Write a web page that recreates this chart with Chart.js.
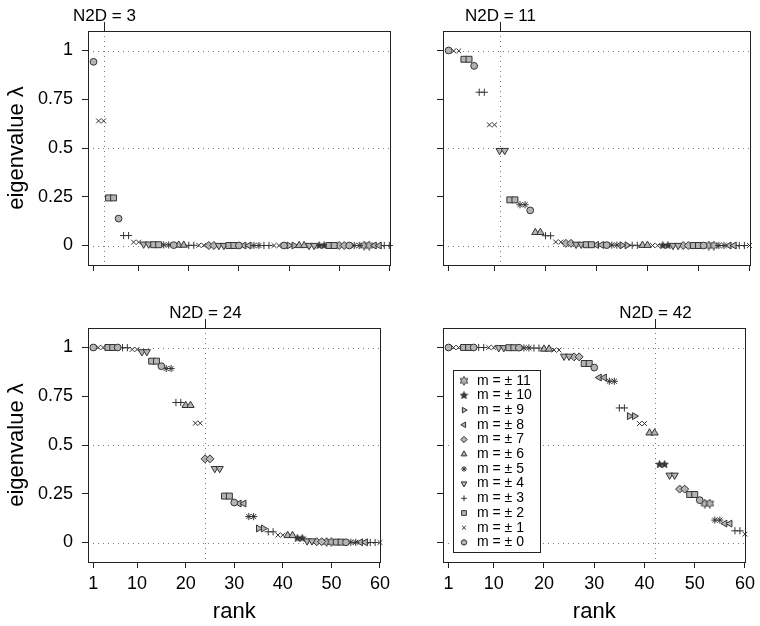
<!DOCTYPE html>
<html>
<head>
<meta charset="utf-8">
<script src="https://cdn.jsdelivr.net/npm/chart.js@4.4.0/dist/chart.umd.min.js"></script>
<style>
    body { margin: 0; background: #fff; width: 760px; height: 626px; position: relative; overflow: hidden; }
    canvas { position: absolute; }
</style>
</head>
<body>
<canvas id="p1" width="395" height="290" style="left:0px;top:0px"></canvas>
<canvas id="p2" width="365" height="290" style="left:395px;top:0px"></canvas>
<canvas id="p3" width="395" height="336" style="left:0px;top:290px"></canvas>
<canvas id="p4" width="365" height="336" style="left:395px;top:290px"></canvas>
<script>
// Shannon number of each panel
var n2d = [3, 11, 24, 42];
var xTicks = [1, 10, 20, 30, 40, 50, 60];
var yTicks = [0, 0.25, 0.5, 0.75, 1];
var mLevels = [11, 10, 9, 8, 7, 6, 5, 4, 3, 2, 1, 0];

// order |m| of the eigenvalue at each rank (1..60)
var mRank1 = [0, 1, 1, 2, 2, 0, 3, 3, 1, 1,
    4, 4, 2, 2, 5, 5, 0, 6, 6, 3,
    3, 1, 1, 7, 7, 4, 4, 2, 2, 0,
    8, 8, 5, 5, 3, 3, 1, 1, 0, 9,
    9, 6, 6, 4, 4, 10, 10, 2, 2, 7,
    7, 0, 5, 5, 11, 11, 8, 8, 3, 3];
var vals1 = [0.942, 0.639, 0.639, 0.244, 0.244, 0.138, 0.051, 0.051, 0.017, 0.017,
    0.007, 0.007, 0.004, 0.004, 0.003, 0.003, 0.002, 0.002, 0.002, 0.001,
    0.001, 0.001, 0.001, 0, 0, 0, 0, 0, 0, 0,
    0, 0, 0, 0, 0, 0, 0, 0, 0, 0,
    0, 0, 0, 0, 0, 0, 0, 0, 0, 0,
    0, 0, 0, 0, 0, 0, 0, 0, 0, 0];

var mRank2 = [0, 1, 1, 2, 2, 0, 3, 3, 1, 1,
    4, 4, 2, 2, 5, 5, 0, 6, 6, 3,
    3, 1, 1, 7, 7, 4, 4, 2, 2, 8,
    8, 0, 5, 5, 9, 9, 3, 3, 6, 6,
    1, 1, 10, 10, 4, 4, 7, 7, 2, 2,
    0, 11, 11, 5, 5, 8, 8, 3, 3, 1];
var vals2 = [1.0, 0.998, 0.998, 0.955, 0.955, 0.921, 0.786, 0.786, 0.619, 0.619,
    0.487, 0.487, 0.234, 0.234, 0.209, 0.209, 0.18, 0.067, 0.067, 0.05,
    0.05, 0.018, 0.018, 0.011, 0.011, 0.006, 0.006, 0.004, 0.004, 0.003,
    0.003, 0.002, 0.002, 0.002, 0.001, 0.001, 0.001, 0.001, 0.001, 0.001,
    0, 0, 0, 0, 0, 0, 0, 0, 0, 0,
    0, 0, 0, 0, 0, 0, 0, 0, 0, 0];

var mRank3 = [0, 1, 1, 2, 2, 0, 3, 3, 1, 1,
    4, 4, 2, 2, 0, 5, 5, 3, 3, 6,
    6, 1, 1, 7, 7, 4, 4, 2, 2, 0,
    8, 8, 5, 5, 9, 9, 3, 3, 1, 1,
    6, 6, 10, 10, 4, 4, 7, 7, 11, 11,
    2, 2, 0, 5, 5, 8, 8, 3, 3, 1];
var vals3 = [1.0, 1.0, 1.0, 1.0, 1.0, 1.0, 0.999, 0.999, 0.99, 0.99,
    0.978, 0.978, 0.93, 0.93, 0.904, 0.892, 0.892, 0.718, 0.718, 0.703,
    0.703, 0.612, 0.612, 0.429, 0.429, 0.379, 0.379, 0.238, 0.238, 0.205,
    0.2, 0.2, 0.133, 0.133, 0.072, 0.072, 0.055, 0.055, 0.038, 0.038,
    0.036, 0.036, 0.022, 0.022, 0.008, 0.008, 0.004, 0.004, 0.003, 0.003,
    0.002, 0.002, 0.001, 0.001, 0.001, 0.001, 0.001, 0, 0, 0];

var mRank4 = [0, 1, 1, 2, 2, 0, 3, 3, 1, 1,
    4, 4, 2, 2, 0, 5, 5, 3, 3, 6,
    6, 1, 1, 4, 4, 7, 7, 2, 2, 0,
    8, 8, 5, 5, 3, 3, 9, 9, 1, 1,
    6, 6, 10, 10, 4, 4, 7, 7, 2, 2,
    0, 11, 11, 5, 5, 8, 8, 3, 3, 1];
var vals4 = [1.0, 1.0, 1.0, 1.0, 1.0, 1.0, 1.0, 1.0, 1.0, 1.0,
    0.999, 0.999, 0.999, 0.999, 0.999, 0.998, 0.998, 0.997, 0.997, 0.992,
    0.992, 0.987, 0.987, 0.955, 0.955, 0.952, 0.952, 0.918, 0.918, 0.897,
    0.846, 0.846, 0.827, 0.827, 0.69, 0.69, 0.648, 0.648, 0.61, 0.61,
    0.562, 0.562, 0.40, 0.40, 0.345, 0.345, 0.274, 0.274, 0.246, 0.246,
    0.217, 0.2, 0.2, 0.115, 0.115, 0.097, 0.097, 0.06, 0.06, 0.043];

var panels = [
    { id: 'p1', m: mRank1, v: vals1 },
    { id: 'p2', m: mRank2, v: vals2 },
    { id: 'p3', m: mRank3, v: vals3 },
    { id: 'p4', m: mRank4, v: vals4 }
];

var fam = "'Liberation Sans', Arial, Helvetica, sans-serif";
var grayFill = '#b4b4b4';
var dark = '#333333';

window.onload = function () {

    this.graficos();

}

function makeStar(points, size, inner, fill, stroke) {
    var c = document.createElement('canvas');
    c.width = size;
    c.height = size;
    var g = c.getContext('2d');
    var cx = size / 2, cy = size / 2, R = size / 2 - 0.6, r = R * inner;
    g.beginPath();
    for (var i = 0; i < points * 2; i++) {
        var a = -Math.PI / 2 + i * Math.PI / points;
        var rr = i % 2 === 0 ? R : r;
        g.lineTo(cx + rr * Math.cos(a), cy + rr * Math.sin(a));
    }
    g.closePath();
    g.fillStyle = fill;
    g.fill();
    g.strokeStyle = stroke;
    g.lineWidth = 0.9;
    g.stroke();
    return c;
}

var star5 = makeStar(5, 9, 0.42, dark, dark);
var star6 = makeStar(6, 10, 0.58, grayFill, dark);

// marker for each |m|
function marker(m) {
    switch (m) {
        case 0: return { pointStyle: 'circle', rotation: 0, radius: 3.4 };
        case 1: return { pointStyle: 'crossRot', rotation: 0, radius: 3.4 };
        case 2: return { pointStyle: 'rect', rotation: 0, radius: 4.2 };
        case 3: return { pointStyle: 'cross', rotation: 0, radius: 3.6 };
        case 4: return { pointStyle: 'triangle', rotation: 180, radius: 4.2 };
        case 5: return { pointStyle: 'star', rotation: 0, radius: 3.6 };
        case 6: return { pointStyle: 'triangle', rotation: 0, radius: 4.2 };
        case 7: return { pointStyle: 'rectRot', rotation: 0, radius: 4 };
        case 8: return { pointStyle: 'triangle', rotation: -90, radius: 4 };
        case 9: return { pointStyle: 'triangle', rotation: 90, radius: 4 };
        case 10: return { pointStyle: star5, rotation: 0, radius: 4 };
        default: return { pointStyle: star6, rotation: 0, radius: 4 };
    }
}

var decoPlugin = {
    id: 'deco',
    beforeDatasetsDraw: function (chart, args, opts) {
        var ctx = chart.ctx, a = chart.chartArea;
        var xs = chart.scales.x, ys = chart.scales.y;
        ctx.save();
        ctx.strokeStyle = '#777';
        ctx.lineWidth = 1;
        ctx.setLineDash([1, 4]);
        [0, 0.5, 1].forEach(function (v) {
            var py = Math.round(ys.getPixelForValue(v)) + 0.5;
            ctx.beginPath();
            ctx.moveTo(a.left, py);
            ctx.lineTo(a.right, py);
            ctx.stroke();
        });
        var px = Math.round(xs.getPixelForValue(opts.n2d)) + 0.5;
        ctx.beginPath();
        ctx.moveTo(px, a.top);
        ctx.lineTo(px, a.bottom);
        ctx.stroke();
        ctx.restore();
    },
    afterDraw: function (chart, args, opts) {
        var ctx = chart.ctx, a = chart.chartArea;
        var xs = chart.scales.x;
        ctx.save();
        ctx.strokeStyle = '#222';
        ctx.lineWidth = 1;
        ctx.strokeRect(Math.round(a.left) + 0.5, Math.round(a.top) + 0.5, Math.round(a.right - a.left), Math.round(a.bottom - a.top));
        var px = Math.round(xs.getPixelForValue(opts.n2d)) + 0.5;
        ctx.beginPath();
        ctx.moveTo(px, a.top - 9);
        ctx.lineTo(px, a.top);
        ctx.stroke();
        ctx.fillStyle = '#000';
        ctx.font = '17px ' + fam;
        ctx.textAlign = 'center';
        ctx.textBaseline = 'middle';
        ctx.fillText('N2D = ' + opts.n2d, px, a.top - 15);

        if (opts.legend) {
            var lx = a.left + 10, ly = a.top + 42, lw = 87, lh = 182;
            ctx.fillStyle = '#fff';
            ctx.fillRect(lx, ly, lw, lh);
            ctx.strokeRect(lx + 0.5, ly + 0.5, lw, lh);
            ctx.font = '14px ' + fam;
            ctx.textAlign = 'left';
            mLevels.forEach(function (m, i) {
                var cy = ly + 10.7 + i * 14.7;
                var mk = marker(m);
                ctx.fillStyle = grayFill;
                ctx.strokeStyle = dark;
                ctx.lineWidth = 1;
                if (Chart.helpers && Chart.helpers.drawPoint) {
                    Chart.helpers.drawPoint(ctx, { pointStyle: mk.pointStyle, rotation: mk.rotation, radius: mk.radius * 0.8, borderWidth: 1 }, lx + 11, cy);
                }
                ctx.fillStyle = '#000';
                ctx.fillText('m = \u00b1 ' + m, lx + 24, cy);
            });
        }
        ctx.restore();
    }
};

function graficos() {

    Chart.defaults.font.family = fam;

    for (var k = 0; k < panels.length; k++) {
        var p = panels[k];
        var isLeft = k % 2 === 0;
        var isBottom = k >= 2;

        var datasets = [];
        mLevels.slice().reverse().forEach(function (m) {
            var pts = [];
            for (var i = 0; i < p.m.length; i++) {
                if (p.m[i] === m) pts.push({ x: i + 1, y: p.v[i] });
            }
            var mk = marker(m);
            datasets.push({
                label: 'm = \u00b1 ' + m,
                data: pts,
                pointStyle: mk.pointStyle,
                rotation: mk.rotation,
                pointRadius: mk.radius,
                pointBackgroundColor: grayFill,
                pointBorderColor: dark,
                pointBorderWidth: 1,
                clip: false
            });
        });

        var ctx = document.getElementById(p.id);

        new Chart(ctx, {
            type: 'scatter',
            data: { datasets: datasets },
            options: {
                responsive: false,
                animation: false,
                events: [],
                layout: { padding: { top: isBottom ? 38 : 31, right: isLeft ? 2 : 10, left: 0, bottom: 0 } },
                plugins: {
                    legend: { display: false },
                    tooltip: { enabled: false },
                    deco: { n2d: n2d[k], legend: k === 3 }
                },
                scales: {
                    x: {
                        type: 'linear',
                        min: -0.1,
                        max: 60.1,
                        afterBuildTicks: function (s) { s.ticks = xTicks.map(function (v) { return { value: v }; }); },
                        afterFit: (function (b) { return function (s) { s.height = b ? 64 : 25; }; })(isBottom),
                        grid: { drawOnChartArea: false, drawTicks: true, tickLength: 6, color: '#222' },
                        border: { display: true, color: '#222' },
                        ticks: { display: isBottom, padding: 5, color: '#000', font: { size: 18 }, maxRotation: 0, autoSkip: false },
                        title: { display: isBottom, text: 'rank', color: '#000', font: { size: 22 }, padding: { top: 0, bottom: 1 } }
                    },
                    y: {
                        type: 'linear',
                        min: -0.1,
                        max: 1.1,
                        afterBuildTicks: function (s) { s.ticks = yTicks.map(function (v) { return { value: v }; }); },
                        afterFit: (function (l) { return function (s) { s.width = l ? 88 : 48; }; })(isLeft),
                        grid: { drawOnChartArea: false, drawTicks: true, tickLength: 6, color: '#222' },
                        border: { display: true, color: '#222' },
                        ticks: { display: isLeft, padding: 9, color: '#000', font: { size: 18 }, callback: function (v) { return String(v); } },
                        title: { display: isLeft, text: 'eigenvalue \u03bb', color: '#000', font: { size: 22 }, padding: { top: 4, bottom: 0 } }
                    }
                }
            },
            plugins: [decoPlugin]
        });
    }
}
</script>
</body>
</html>
